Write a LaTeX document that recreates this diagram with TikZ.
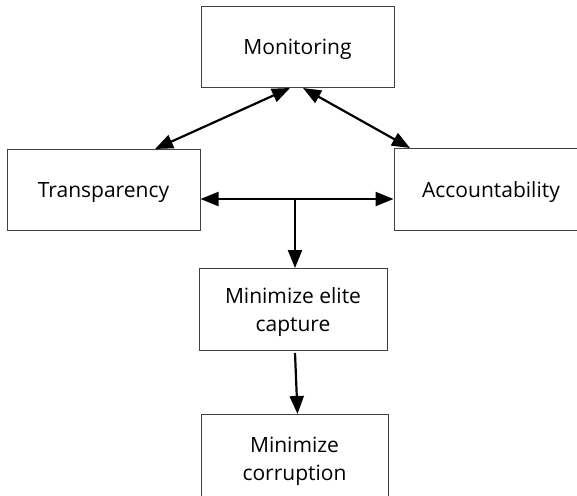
\documentclass[tikz,border=0pt]{standalone}
\usepackage{fontspec}
\setmainfont{Open Sans}
\usetikzlibrary{arrows.meta, positioning}

\begin{document}
\begin{tikzpicture}[
x=1pt, y=1pt,
box/.style={rectangle, draw=black!75, line width=1pt, minimum width=193pt,
minimum height=81pt, align=center, text depth=0pt, font=\fontsize{21}{28}\selectfont},
arr/.style={-{Triangle[length=18pt,width=14pt]}, line width=2.2pt},
both/.style={{Triangle[length=18pt,width=14pt]}-{Triangle[length=18pt,width=14pt]}, line width=2.2pt}
]
\useasboundingbox (0,0) rectangle (577,-495);

\node[box] (mon) at (297.5,-47) {Monitoring};
\node[box, below left=61pt and 0pt of mon] (trans) {Transparency};
\node[box, below right=60pt and -1pt of mon, minimum width=194pt, minimum height=82pt] (acc) {Accountability};
\node[box, below=180pt of mon, xshift=-4.5pt, minimum width=188pt, minimum height=82pt] (elite) {Minimize elite\\capture};
\node[box, below=63pt of elite, xshift=1.5pt, minimum width=187pt, minimum height=88pt] (corr) {Minimize\\corruption};

% links between the three pillars
\draw[both] ([xshift=51.5pt]trans.north) -- ([xshift=-7.5pt]mon.south);
\draw[both] ([xshift=5.5pt]mon.south) -- ([xshift=-81pt]acc.north);
\coordinate (hl) at ([yshift=-9pt]trans.east);
\draw[both] (hl) -- (hl -| acc.west);

% down the chain
\draw[arr] (hl -| elite.north) ++(2pt,0) coordinate (tee) -- (tee |- elite.north);
\draw[arr] ([xshift=2pt,yshift=-2pt]elite.south) -- ([xshift=3pt]corr.north);
\end{tikzpicture}
\end{document}
